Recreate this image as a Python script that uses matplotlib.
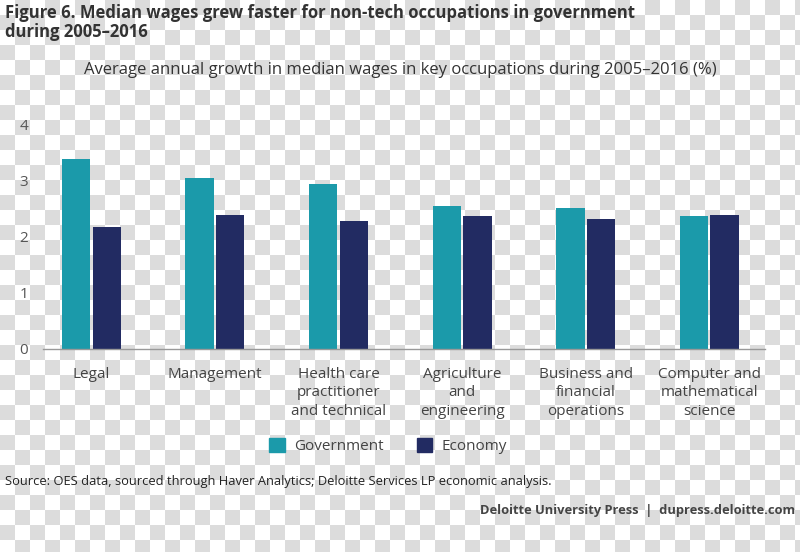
import numpy as np
import matplotlib
matplotlib.use("Agg")
import matplotlib.pyplot as plt
from matplotlib.patches import Patch

# data
categories = ["Legal", "Management", "Health care\npractitioner\nand technical",
              "Agriculture\nand\nengineering", "Business and\nfinancial\noperations",
              "Computer and\nmathematical\nscience"]
government = [3.39, 3.06, 2.95, 2.56, 2.51, 2.37]
economy = [2.18, 2.40, 2.29, 2.37, 2.32, 2.40]
y_ticks = [0, 1, 2, 3, 4]

teal = "#1b9aaa"
navy = "#222b62"

plt.rcParams["font.family"] = ["Open Sans", "DejaVu Sans"]

fig = plt.figure(figsize=(8, 5.52), dpi=100)

# checkered backdrop like the reference image
H, W, sq = 552, 800, 15
rr, cc = np.mgrid[0:H, 0:W]
odd = ((rr // sq + cc // sq) % 2) == 1
bg = np.where(odd, 220, 255).astype(np.uint8)
bg = np.dstack([bg, bg, bg])
fig.figimage(bg, xo=0, yo=0, origin="upper", zorder=-10)

ax = fig.add_axes([0.054, 0.3678, 0.902, 0.4058])
ax.patch.set_alpha(0)

x = np.arange(len(categories))
w = 0.23
off = 0.124
ax.bar(x - off, government, w, color=teal, label="Government")
ax.bar(x + off, economy, w, color=navy, label="Economy")

ax.set_xlim(-0.39, 5.45)
ax.set_ylim(0, 4)
ax.set_yticks(y_ticks)
ax.set_xticks(x)
ax.set_xticklabels(categories, fontsize=11, color="#444444", linespacing=1.3)
ax.tick_params(axis="y", length=0, pad=11, labelsize=11, labelcolor="#555555")
ax.tick_params(axis="x", length=0, pad=13)
for s in ["top", "right", "left"]:
    ax.spines[s].set_visible(False)
ax.spines["bottom"].set_color("#999999")
ax.spines["bottom"].set_linewidth(1)

fig.text(0.006, 0.993, "Figure 6. Median wages grew faster for non-tech occupations in government\nduring 2005\u20132016",
         fontsize=12, fontweight="bold", color="#333333", va="top", ha="left", linespacing=1.05)
fig.text(0.5, 0.873, "Average annual growth in median wages in key occupations during 2005\u20132016 (%)",
         fontsize=12, color="#333333", ha="center", va="center")

handles = [Patch(color=teal, label="Government"), Patch(color=navy, label="Economy")]
fig.legend(handles=handles, loc="center", bbox_to_anchor=(0.485, 0.192), ncol=2,
           frameon=False, fontsize=11, handlelength=1.0, handleheight=1.0,
           columnspacing=2.2, handletextpad=0.6, labelcolor="#444444")

fig.text(0.006, 0.128, "Source: OES data, sourced through Haver Analytics; Deloitte Services LP economic analysis.",
         fontsize=9.3, color="#222222", ha="left", va="center")
fig.text(0.994, 0.076, "Deloitte University Press  |  dupress.deloitte.com",
         fontsize=9.3, fontweight="bold", color="#444444", ha="right", va="center")

fig.savefig("out.png", dpi=100)
